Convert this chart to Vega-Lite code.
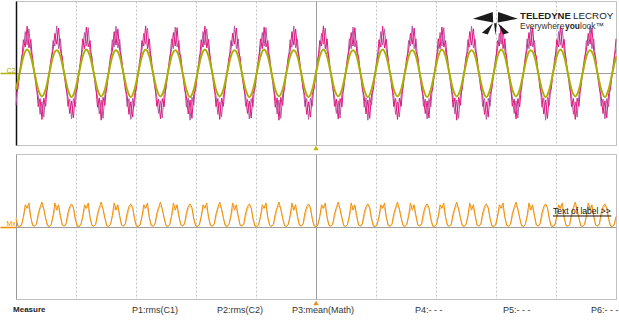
{
"$schema": "https://vega.github.io/schema/vega-lite/v6.json",
"autosize": {"type": "pad"},
"padding": {"left": -2, "top": -1, "right": 0, "bottom": 0},
"background": "white",
"bounds": "flush",
"spacing": 9,
"config": {"view": {"stroke": "#bdbdbd", "strokeWidth": 1}, "font": "Liberation Sans"},
"datasets": {"s": [
{"i":0,"m":-1.18,"q":-1.8,"o":-0.92,"p":0.4,"r":0.5},{"i":1,"m":-0.92,"q":-0.55,"p":0.02,"r":0.08},
{"i":2,"m":0,"q":0.08,"o":0,"p":0,"r":0.02},{"i":3,"m":0.58,"q":0.9,"p":0.08,"r":0.1},{"i":4,"m":1.85,"q":1.2,"o":0.92,"p":0.55,"r":0.5},{"i":5,"m":1.44,"q":2.3,"p":1.2,"r":0.95},{"i":6,"m":2.6,"q":1.55,"o":1.3,"p":1,"r":1.15},{"i":7,"m":1.39,"q":2.45,"p":1.3,"r":1},{"i":8,"m":1.87,"q":1.25,"o":0.92,"p":0.5,"r":0.5},{"i":9,"m":0.58,"q":0.85,"p":0.05,"r":0.08},{"i":10,"m":0,"q":-0.08,"o":0,"p":0.02,"r":0.02},{"i":11,"m":-0.58,"q":-0.9,"p":0.12,"r":0.1},{"i":12,"m":-1.87,"q":-1.25,"o":-0.92,"p":0.7,"r":0.5},{"i":13,"m":-1.42,"q":-2.3,"p":1.05,"r":0.95},{"i":14,"m":-2.58,"q":-1.6,"o":-1.3,"p":1.35,"r":1.15},{"i":15,"m":-1.4,"q":-2.45,"p":0.95,"r":1},{"i":16,"m":-1.85,"q":-1.2,"o":-0.92,"p":0.45,"r":0.5},{"i":17,"m":-0.6,"q":-0.85,"p":0.04,"r":0.08},
{"i":18,"m":0.1,"q":0,"o":0,"p":0,"r":0.02},{"i":19,"m":0.85,"q":0.55,"p":0.1,"r":0.1},{"i":20,"m":1.25,"q":1.8,"o":0.92,"p":0.6,"r":0.5},{"i":21,"m":2.2,"q":1.5,"p":1.3,"r":0.95},{"i":22,"m":1.6,"q":2.62,"o":1.26,"p":0.9,"r":1.15},{"i":23,"m":2.5,"q":1.35,"p":1.2,"r":1},{"i":24,"m":1.2,"q":1.9,"o":0.92,"p":0.6,"r":0.5},{"i":25,"m":0.9,"q":0.6,"p":0.08,"r":0.08},{"i":26,"m":-0.1,"q":0,"o":0,"p":0.03,"r":0.02},{"i":27,"m":-0.85,"q":-0.55,"p":0.15,"r":0.1},{"i":28,"m":-1.3,"q":-1.85,"o":-0.92,"p":0.75,"r":0.5},{"i":29,"m":-2.25,"q":-1.45,"p":1.1,"r":0.95},{"i":30,"m":-1.55,"q":-2.55,"o":-1.34,"p":1.25,"r":1.15},{"i":31,"m":-2.5,"q":-1.42,"p":1.05,"r":1},{"i":32,"m":-1.15,"q":-1.88,"o":-0.92,"p":0.4,"r":0.5},{"i":33,"m":-0.9,"q":-0.58,"p":0.02,"r":0.08},
{"i":34,"m":0,"q":0.05,"o":0,"p":0,"r":0.02},{"i":35,"m":0.62,"q":0.88,"p":0.08,"r":0.1},{"i":36,"m":1.9,"q":1.3,"o":0.92,"p":0.55,"r":0.5},{"i":37,"m":1.35,"q":2.25,"p":1.2,"r":0.95},{"i":38,"m":2.55,"q":1.5,"o":1.3,"p":1,"r":1.15},{"i":39,"m":1.45,"q":2.52,"p":1.3,"r":1},{"i":40,"m":1.8,"q":1.15,"o":0.92,"p":0.5,"r":0.5},{"i":41,"m":0.55,"q":0.92,"p":0.05,"r":0.08},{"i":42,"m":0.02,"q":-0.05,"o":0,"p":0.02,"r":0.02},{"i":43,"m":-0.6,"q":-0.88,"p":0.12,"r":0.1},{"i":44,"m":-1.9,"q":-1.28,"o":-0.92,"p":0.7,"r":0.5},{"i":45,"m":-1.38,"q":-2.28,"p":1.05,"r":0.95},{"i":46,"m":-2.62,"q":-1.5,"o":-1.3,"p":1.35,"r":1.15},{"i":47,"m":-1.35,"q":-2.52,"p":0.95,"r":1},{"i":48,"m":-1.8,"q":-1.18,"o":-0.92,"p":0.45,"r":0.5},{"i":49,"m":-0.55,"q":-0.92,"p":0.04,"r":0.08},
{"i":50,"m":0.08,"q":0,"o":0,"p":0,"r":0.02},{"i":51,"m":0.9,"q":0.58,"p":0.1,"r":0.1},{"i":52,"m":1.2,"q":1.85,"o":0.92,"p":0.6,"r":0.5},{"i":53,"m":2.3,"q":1.44,"p":1.3,"r":0.95},{"i":54,"m":1.55,"q":2.6,"o":1.26,"p":0.9,"r":1.15},{"i":55,"m":2.45,"q":1.39,"p":1.2,"r":1},{"i":56,"m":1.25,"q":1.87,"o":0.92,"p":0.6,"r":0.5},{"i":57,"m":0.85,"q":0.58,"p":0.08,"r":0.08},{"i":58,"m":-0.08,"q":0,"o":0,"p":0.03,"r":0.02},{"i":59,"m":-0.9,"q":-0.58,"p":0.15,"r":0.1},{"i":60,"m":-1.25,"q":-1.87,"o":-0.92,"p":0.75,"r":0.5},{"i":61,"m":-2.3,"q":-1.42,"p":1.1,"r":0.95},{"i":62,"m":-1.6,"q":-2.58,"o":-1.34,"p":1.25,"r":1.15},{"i":63,"m":-2.45,"q":-1.4,"p":1.05,"r":1},{"i":64,"m":-1.2,"q":-1.85,"o":-0.92,"p":0.4,"r":0.5},{"i":65,"m":-0.85,"q":-0.6,"p":0.02,"r":0.08},
{"i":66,"m":0,"q":0.1,"o":0,"p":0,"r":0.02},{"i":67,"m":0.55,"q":0.85,"p":0.08,"r":0.1},{"i":68,"m":1.8,"q":1.25,"o":0.92,"p":0.55,"r":0.5},{"i":69,"m":1.5,"q":2.2,"p":1.2,"r":0.95},{"i":70,"m":2.62,"q":1.6,"o":1.3,"p":1,"r":1.15},{"i":71,"m":1.35,"q":2.5,"p":1.3,"r":1},{"i":72,"m":1.9,"q":1.2,"o":0.92,"p":0.5,"r":0.5},{"i":73,"m":0.6,"q":0.9,"p":0.05,"r":0.08},{"i":74,"m":0,"q":-0.1,"o":0,"p":0.02,"r":0.02},{"i":75,"m":-0.55,"q":-0.85,"p":0.12,"r":0.1},{"i":76,"m":-1.85,"q":-1.3,"o":-0.92,"p":0.7,"r":0.5},{"i":77,"m":-1.45,"q":-2.25,"p":1.05,"r":0.95},{"i":78,"m":-2.55,"q":-1.55,"o":-1.3,"p":1.35,"r":1.15},{"i":79,"m":-1.42,"q":-2.5,"p":0.95,"r":1},{"i":80,"m":-1.88,"q":-1.15,"o":-0.92,"p":0.45,"r":0.5},{"i":81,"m":-0.58,"q":-0.9,"p":0.04,"r":0.08},
{"i":82,"m":0.05,"q":0,"o":0,"p":0,"r":0.02},{"i":83,"m":0.88,"q":0.62,"p":0.1,"r":0.1},{"i":84,"m":1.3,"q":1.9,"o":0.92,"p":0.6,"r":0.5},{"i":85,"m":2.25,"q":1.35,"p":1.3,"r":0.95},{"i":86,"m":1.5,"q":2.55,"o":1.26,"p":0.9,"r":1.15},{"i":87,"m":2.52,"q":1.45,"p":1.2,"r":1},{"i":88,"m":1.15,"q":1.8,"o":0.92,"p":0.6,"r":0.5},{"i":89,"m":0.92,"q":0.55,"p":0.08,"r":0.08},{"i":90,"m":-0.05,"q":0.02,"o":0,"p":0.03,"r":0.02},{"i":91,"m":-0.88,"q":-0.6,"p":0.15,"r":0.1},{"i":92,"m":-1.28,"q":-1.9,"o":-0.92,"p":0.75,"r":0.5},{"i":93,"m":-2.28,"q":-1.38,"p":1.1,"r":0.95},{"i":94,"m":-1.5,"q":-2.62,"o":-1.34,"p":1.25,"r":1.15},{"i":95,"m":-2.52,"q":-1.35,"p":1.05,"r":1},{"i":96,"m":-1.18,"q":-1.8,"o":-0.92,"p":0.4,"r":0.5},{"i":97,"m":-0.92,"q":-0.55,"p":0.02,"r":0.08},
{"i":98,"m":0,"q":0.08,"o":0,"p":0,"r":0.02},{"i":99,"m":0.58,"q":0.9,"p":0.08,"r":0.1},{"i":100,"m":1.85,"q":1.2,"o":0.92,"p":0.55,"r":0.5},{"i":101,"m":1.44,"q":2.3,"p":1.2,"r":0.95},{"i":102,"m":2.6,"q":1.55,"o":1.3,"p":1,"r":1.15},{"i":103,"m":1.39,"q":2.45,"p":1.3,"r":1},{"i":104,"m":1.87,"q":1.25,"o":0.92,"p":0.5,"r":0.5},{"i":105,"m":0.58,"q":0.85,"p":0.05,"r":0.08},{"i":106,"m":0,"q":-0.08,"o":0,"p":0.02,"r":0.02},{"i":107,"m":-0.58,"q":-0.9,"p":0.12,"r":0.1},{"i":108,"m":-1.87,"q":-1.25,"o":-0.92,"p":0.7,"r":0.5},{"i":109,"m":-1.42,"q":-2.3,"p":1.05,"r":0.95},{"i":110,"m":-2.58,"q":-1.6,"o":-1.3,"p":1.35,"r":1.15},{"i":111,"m":-1.4,"q":-2.45,"p":0.95,"r":1},{"i":112,"m":-1.85,"q":-1.2,"o":-0.92,"p":0.45,"r":0.5},{"i":113,"m":-0.6,"q":-0.85,"p":0.04,"r":0.08},
{"i":114,"m":0.1,"q":0,"o":0,"p":0,"r":0.02},{"i":115,"m":0.85,"q":0.55,"p":0.1,"r":0.1},{"i":116,"m":1.25,"q":1.8,"o":0.92,"p":0.6,"r":0.5},{"i":117,"m":2.2,"q":1.5,"p":1.3,"r":0.95},{"i":118,"m":1.6,"q":2.62,"o":1.26,"p":0.9,"r":1.15},{"i":119,"m":2.5,"q":1.35,"p":1.2,"r":1},{"i":120,"m":1.2,"q":1.9,"o":0.92,"p":0.6,"r":0.5},{"i":121,"m":0.9,"q":0.6,"p":0.08,"r":0.08},{"i":122,"m":-0.1,"q":0,"o":0,"p":0.03,"r":0.02},{"i":123,"m":-0.85,"q":-0.55,"p":0.15,"r":0.1},{"i":124,"m":-1.3,"q":-1.85,"o":-0.92,"p":0.75,"r":0.5},{"i":125,"m":-2.25,"q":-1.45,"p":1.1,"r":0.95},{"i":126,"m":-1.55,"q":-2.55,"o":-1.34,"p":1.25,"r":1.15},{"i":127,"m":-2.5,"q":-1.42,"p":1.05,"r":1},{"i":128,"m":-1.15,"q":-1.88,"o":-0.92,"p":0.4,"r":0.5},{"i":129,"m":-0.9,"q":-0.58,"p":0.02,"r":0.08},
{"i":130,"m":0,"q":0.05,"o":0,"p":0,"r":0.02},{"i":131,"m":0.62,"q":0.88,"p":0.08,"r":0.1},{"i":132,"m":1.9,"q":1.3,"o":0.92,"p":0.55,"r":0.5},{"i":133,"m":1.35,"q":2.25,"p":1.2,"r":0.95},{"i":134,"m":2.55,"q":1.5,"o":1.3,"p":1,"r":1.15},{"i":135,"m":1.45,"q":2.52,"p":1.3,"r":1},{"i":136,"m":1.8,"q":1.15,"o":0.92,"p":0.5,"r":0.5},{"i":137,"m":0.55,"q":0.92,"p":0.05,"r":0.08},{"i":138,"m":0.02,"q":-0.05,"o":0,"p":0.02,"r":0.02},{"i":139,"m":-0.6,"q":-0.88,"p":0.12,"r":0.1},{"i":140,"m":-1.9,"q":-1.28,"o":-0.92,"p":0.7,"r":0.5},{"i":141,"m":-1.38,"q":-2.28,"p":1.05,"r":0.95},{"i":142,"m":-2.62,"q":-1.5,"o":-1.3,"p":1.35,"r":1.15},{"i":143,"m":-1.35,"q":-2.52,"p":0.95,"r":1},{"i":144,"m":-1.8,"q":-1.18,"o":-0.92,"p":0.45,"r":0.5},{"i":145,"m":-0.55,"q":-0.92,"p":0.04,"r":0.08},
{"i":146,"m":0.08,"q":0,"o":0,"p":0,"r":0.02},{"i":147,"m":0.9,"q":0.58,"p":0.1,"r":0.1},{"i":148,"m":1.2,"q":1.85,"o":0.92,"p":0.6,"r":0.5},{"i":149,"m":2.3,"q":1.44,"p":1.3,"r":0.95},{"i":150,"m":1.55,"q":2.6,"o":1.26,"p":0.9,"r":1.15},{"i":151,"m":2.45,"q":1.39,"p":1.2,"r":1},{"i":152,"m":1.25,"q":1.87,"o":0.92,"p":0.6,"r":0.5},{"i":153,"m":0.85,"q":0.58,"p":0.08,"r":0.08},{"i":154,"m":-0.08,"q":0,"o":0,"p":0.03,"r":0.02},{"i":155,"m":-0.9,"q":-0.58,"p":0.15,"r":0.1},{"i":156,"m":-1.25,"q":-1.87,"o":-0.92,"p":0.75,"r":0.5},{"i":157,"m":-2.3,"q":-1.42,"p":1.1,"r":0.95},{"i":158,"m":-1.6,"q":-2.58,"o":-1.34,"p":1.25,"r":1.15},{"i":159,"m":-2.45,"q":-1.4,"p":1.05,"r":1},{"i":160,"m":-1.2,"q":-1.85,"o":-0.92,"p":0.4,"r":0.5},{"i":161,"m":-0.85,"q":-0.6,"p":0.02,"r":0.08},
{"i":162,"m":0,"q":0.1,"o":0,"p":0,"r":0.02},{"i":163,"m":0.55,"q":0.85,"p":0.08,"r":0.1},{"i":164,"m":1.8,"q":1.25,"o":0.92,"p":0.55,"r":0.5},{"i":165,"m":1.5,"q":2.2,"p":1.2,"r":0.95},{"i":166,"m":2.62,"q":1.6,"o":1.3,"p":1,"r":1.15},{"i":167,"m":1.35,"q":2.5,"p":1.3,"r":1},{"i":168,"m":1.9,"q":1.2,"o":0.92,"p":0.5,"r":0.5},{"i":169,"m":0.6,"q":0.9,"p":0.05,"r":0.08},{"i":170,"m":0,"q":-0.1,"o":0,"p":0.02,"r":0.02},{"i":171,"m":-0.55,"q":-0.85,"p":0.12,"r":0.1},{"i":172,"m":-1.85,"q":-1.3,"o":-0.92,"p":0.7,"r":0.5},{"i":173,"m":-1.45,"q":-2.25,"p":1.05,"r":0.95},{"i":174,"m":-2.55,"q":-1.55,"o":-1.3,"p":1.35,"r":1.15},{"i":175,"m":-1.42,"q":-2.5,"p":0.95,"r":1},{"i":176,"m":-1.88,"q":-1.15,"o":-0.92,"p":0.45,"r":0.5},{"i":177,"m":-0.58,"q":-0.9,"p":0.04,"r":0.08},
{"i":178,"m":0.05,"q":0,"o":0,"p":0,"r":0.02},{"i":179,"m":0.88,"q":0.62,"p":0.1,"r":0.1},{"i":180,"m":1.3,"q":1.9,"o":0.92,"p":0.6,"r":0.5},{"i":181,"m":2.25,"q":1.35,"p":1.3,"r":0.95},{"i":182,"m":1.5,"q":2.55,"o":1.26,"p":0.9,"r":1.15},{"i":183,"m":2.52,"q":1.45,"p":1.2,"r":1},{"i":184,"m":1.15,"q":1.8,"o":0.92,"p":0.6,"r":0.5},{"i":185,"m":0.92,"q":0.55,"p":0.08,"r":0.08},{"i":186,"m":-0.05,"q":0.02,"o":0,"p":0.03,"r":0.02},{"i":187,"m":-0.88,"q":-0.6,"p":0.15,"r":0.1},{"i":188,"m":-1.28,"q":-1.9,"o":-0.92,"p":0.75,"r":0.5},{"i":189,"m":-2.28,"q":-1.38,"p":1.1,"r":0.95},{"i":190,"m":-1.5,"q":-2.62,"o":-1.34,"p":1.25,"r":1.15},{"i":191,"m":-2.52,"q":-1.35,"p":1.05,"r":1},{"i":192,"m":-1.18,"q":-1.8,"o":-0.92,"p":0.4,"r":0.5},{"i":193,"m":-0.92,"q":-0.55,"p":0.02,"r":0.08},
{"i":194,"m":0,"q":0.08,"o":0,"p":0,"r":0.02},{"i":195,"m":0.58,"q":0.9,"p":0.08,"r":0.1},{"i":196,"m":1.85,"q":1.2,"o":0.92,"p":0.55,"r":0.5},{"i":197,"m":1.44,"q":2.3,"p":1.2,"r":0.95},{"i":198,"m":2.6,"q":1.55,"o":1.3,"p":1,"r":1.15},{"i":199,"m":1.39,"q":2.45,"p":1.3,"r":1},{"i":200,"m":1.87,"q":1.25,"o":0.92,"p":0.5,"r":0.5},{"i":201,"m":0.58,"q":0.85,"p":0.05,"r":0.08},{"i":202,"m":0,"q":-0.08,"o":0,"p":0.02,"r":0.02},{"i":203,"m":-0.58,"q":-0.9,"p":0.12,"r":0.1},{"i":204,"m":-1.87,"q":-1.25,"o":-0.92,"p":0.7,"r":0.5},{"i":205,"m":-1.42,"q":-2.3,"p":1.05,"r":0.95},{"i":206,"m":-2.58,"q":-1.6,"o":-1.3,"p":1.35,"r":1.15},{"i":207,"m":-1.4,"q":-2.45,"p":0.95,"r":1},{"i":208,"m":-1.85,"q":-1.2,"o":-0.92,"p":0.45,"r":0.5},{"i":209,"m":-0.6,"q":-0.85,"p":0.04,"r":0.08},
{"i":210,"m":0.1,"q":0,"o":0,"p":0,"r":0.02},{"i":211,"m":0.85,"q":0.55,"p":0.1,"r":0.1},{"i":212,"m":1.25,"q":1.8,"o":0.92,"p":0.6,"r":0.5},{"i":213,"m":2.2,"q":1.5,"p":1.3,"r":0.95},{"i":214,"m":1.6,"q":2.62,"o":1.26,"p":0.9,"r":1.15},{"i":215,"m":2.5,"q":1.35,"p":1.2,"r":1},{"i":216,"m":1.2,"q":1.9,"o":0.92,"p":0.6,"r":0.5},{"i":217,"m":0.9,"q":0.6,"p":0.08,"r":0.08},{"i":218,"m":-0.1,"q":0,"o":0,"p":0.03,"r":0.02},{"i":219,"m":-0.85,"q":-0.55,"p":0.15,"r":0.1},{"i":220,"m":-1.3,"q":-1.85,"o":-0.92,"p":0.75,"r":0.5},{"i":221,"m":-2.25,"q":-1.45,"p":1.1,"r":0.95},{"i":222,"m":-1.55,"q":-2.55,"o":-1.34,"p":1.25,"r":1.15},{"i":223,"m":-2.5,"q":-1.42,"p":1.05,"r":1},{"i":224,"m":-1.15,"q":-1.88,"o":-0.92,"p":0.4,"r":0.5},{"i":225,"m":-0.9,"q":-0.58,"p":0.02,"r":0.08},
{"i":226,"m":0,"q":0.05,"o":0,"p":0,"r":0.02},{"i":227,"m":0.62,"q":0.88,"p":0.08,"r":0.1},{"i":228,"m":1.9,"q":1.3,"o":0.92,"p":0.55,"r":0.5},{"i":229,"m":1.35,"q":2.25,"p":1.2,"r":0.95},{"i":230,"m":2.55,"q":1.5,"o":1.3,"p":1,"r":1.15},{"i":231,"m":1.45,"q":2.52,"p":1.3,"r":1},{"i":232,"m":1.8,"q":1.15,"o":0.92,"p":0.5,"r":0.5},{"i":233,"m":0.55,"q":0.92,"p":0.05,"r":0.08},{"i":234,"m":0.02,"q":-0.05,"o":0,"p":0.02,"r":0.02},{"i":235,"m":-0.6,"q":-0.88,"p":0.12,"r":0.1},{"i":236,"m":-1.9,"q":-1.28,"o":-0.92,"p":0.7,"r":0.5},{"i":237,"m":-1.38,"q":-2.28,"p":1.05,"r":0.95},{"i":238,"m":-2.62,"q":-1.5,"o":-1.3,"p":1.35,"r":1.15},{"i":239,"m":-1.35,"q":-2.52,"p":0.95,"r":1},{"i":240,"m":-1.8,"q":-1.18,"o":-0.92,"p":0.45,"r":0.5},{"i":241,"m":-0.55,"q":-0.92,"p":0.04,"r":0.08},
{"i":242,"m":0.08,"q":0,"o":0,"p":0,"r":0.02},{"i":243,"m":0.9,"q":0.58,"p":0.1,"r":0.1},{"i":244,"m":1.2,"q":1.85,"o":0.92,"p":0.6,"r":0.5},{"i":245,"m":2.3,"q":1.44,"p":1.3,"r":0.95},{"i":246,"m":1.55,"q":2.6,"o":1.26,"p":0.9,"r":1.15},{"i":247,"m":2.45,"q":1.39,"p":1.2,"r":1},{"i":248,"m":1.25,"q":1.87,"o":0.92,"p":0.6,"r":0.5},{"i":249,"m":0.85,"q":0.58,"p":0.08,"r":0.08},{"i":250,"m":-0.08,"q":0,"o":0,"p":0.03,"r":0.02},{"i":251,"m":-0.9,"q":-0.58,"p":0.15,"r":0.1},{"i":252,"m":-1.25,"q":-1.87,"o":-0.92,"p":0.75,"r":0.5},{"i":253,"m":-2.3,"q":-1.42,"p":1.1,"r":0.95},{"i":254,"m":-1.6,"q":-2.58,"o":-1.34,"p":1.25,"r":1.15},{"i":255,"m":-2.45,"q":-1.4,"p":1.05,"r":1},{"i":256,"m":-1.2,"q":-1.85,"o":-0.92,"p":0.4,"r":0.5},{"i":257,"m":-0.85,"q":-0.6,"p":0.02,"r":0.08},
{"i":258,"m":0,"q":0.1,"o":0,"p":0,"r":0.02},{"i":259,"m":0.55,"q":0.85,"p":0.08,"r":0.1},{"i":260,"m":1.8,"q":1.25,"o":0.92,"p":0.55,"r":0.5},{"i":261,"m":1.5,"q":2.2,"p":1.2,"r":0.95},{"i":262,"m":2.62,"q":1.6,"o":1.3,"p":1,"r":1.15},{"i":263,"m":1.35,"q":2.5,"p":1.3,"r":1},{"i":264,"m":1.9,"q":1.2,"o":0.92,"p":0.5,"r":0.5},{"i":265,"m":0.6,"q":0.9,"p":0.05,"r":0.08},{"i":266,"m":0,"q":-0.1,"o":0,"p":0.02,"r":0.02},{"i":267,"m":-0.55,"q":-0.85,"p":0.12,"r":0.1},{"i":268,"m":-1.85,"q":-1.3,"o":-0.92,"p":0.7,"r":0.5},{"i":269,"m":-1.45,"q":-2.25,"p":1.05,"r":0.95},{"i":270,"m":-2.55,"q":-1.55,"o":-1.3,"p":1.35,"r":1.15},{"i":271,"m":-1.42,"q":-2.5,"p":0.95,"r":1},{"i":272,"m":-1.88,"q":-1.15,"o":-0.92,"p":0.45,"r":0.5},{"i":273,"m":-0.58,"q":-0.9,"p":0.04,"r":0.08},
{"i":274,"m":0.05,"q":0,"o":0,"p":0,"r":0.02},{"i":275,"m":0.88,"q":0.62,"p":0.1,"r":0.1},{"i":276,"m":1.3,"q":1.9,"o":0.92,"p":0.6,"r":0.5},{"i":277,"m":2.25,"q":1.35,"p":1.3,"r":0.95},{"i":278,"m":1.5,"q":2.55,"o":1.26,"p":0.9,"r":1.15},{"i":279,"m":2.52,"q":1.45,"p":1.2,"r":1},{"i":280,"m":1.15,"q":1.8,"o":0.92,"p":0.6,"r":0.5},{"i":281,"m":0.92,"q":0.55,"p":0.08,"r":0.08},{"i":282,"m":-0.05,"q":0.02,"o":0,"p":0.03,"r":0.02},{"i":283,"m":-0.88,"q":-0.6,"p":0.15,"r":0.1},{"i":284,"m":-1.28,"q":-1.9,"o":-0.92,"p":0.75,"r":0.5},{"i":285,"m":-2.28,"q":-1.38,"p":1.1,"r":0.95},{"i":286,"m":-1.5,"q":-2.62,"o":-1.34,"p":1.25,"r":1.15},{"i":287,"m":-2.52,"q":-1.35,"p":1.05,"r":1},{"i":288,"m":-1.18,"q":-1.8,"o":-0.92,"p":0.4,"r":0.5},{"i":289,"m":-0.92,"q":-0.55,"p":0.02,"r":0.08},
{"i":290,"m":0,"q":0.08,"o":0,"p":0,"r":0.02},{"i":291,"m":0.58,"q":0.9,"p":0.08,"r":0.1},{"i":292,"m":1.85,"q":1.2,"o":0.92,"p":0.55,"r":0.5},{"i":293,"m":1.44,"q":2.3,"p":1.2,"r":0.95},{"i":294,"m":2.6,"q":1.55,"o":1.3,"p":1,"r":1.15},{"i":295,"m":1.39,"q":2.45,"p":1.3,"r":1},{"i":296,"m":1.87,"q":1.25,"o":0.92,"p":0.5,"r":0.5},{"i":297,"m":0.58,"q":0.85,"p":0.05,"r":0.08},{"i":298,"m":0,"q":-0.08,"o":0,"p":0.02,"r":0.02},{"i":299,"m":-0.58,"q":-0.9,"p":0.12,"r":0.1},{"i":300,"m":-1.87,"q":-1.25,"o":-0.92,"p":0.7,"r":0.5},{"i":301,"m":-1.42,"q":-2.3,"p":1.05,"r":0.95},{"i":302,"m":-2.58,"q":-1.6,"o":-1.3,"p":1.35,"r":1.15},{"i":303,"m":-1.4,"q":-2.45,"p":0.95,"r":1},{"i":304,"m":-1.85,"q":-1.2,"o":-0.92,"p":0.45,"r":0.5},{"i":305,"m":-0.6,"q":-0.85,"p":0.04,"r":0.08},
{"i":306,"m":0.1,"q":0,"o":0,"p":0,"r":0.02},{"i":307,"m":0.85,"q":0.55,"p":0.1,"r":0.1},{"i":308,"m":1.25,"q":1.8,"o":0.92,"p":0.6,"r":0.5},{"i":309,"m":2.2,"q":1.5,"p":1.3,"r":0.95},{"i":310,"m":1.6,"q":2.62,"o":1.26,"p":0.9,"r":1.15},{"i":311,"m":2.5,"q":1.35,"p":1.2,"r":1},{"i":312,"m":1.2,"q":1.9,"o":0.92,"p":0.6,"r":0.5},{"i":313,"m":0.9,"q":0.6,"p":0.08,"r":0.08},{"i":314,"m":-0.1,"q":0,"o":0,"p":0.03,"r":0.02},{"i":315,"m":-0.85,"q":-0.55,"p":0.15,"r":0.1},{"i":316,"m":-1.3,"q":-1.85,"o":-0.92,"p":0.75,"r":0.5},{"i":317,"m":-2.25,"q":-1.45,"p":1.1,"r":0.95},{"i":318,"m":-1.55,"q":-2.55,"o":-1.34,"p":1.25,"r":1.15},{"i":319,"m":-2.5,"q":-1.42,"p":1.05,"r":1},{"i":320,"m":-1.15,"q":-1.88,"o":-0.92,"p":0.4,"r":0.5},{"i":321,"m":-0.9,"q":-0.58,"p":0.02,"r":0.08},
{"i":322,"m":0,"q":0.05,"o":0,"p":0,"r":0.02},{"i":323,"m":0.62,"q":0.88,"p":0.08,"r":0.1},{"i":324,"m":1.9,"q":1.3,"o":0.92,"p":0.55,"r":0.5}
]},
"vconcat": [
{
"width": 600, "height": 144,
"layer": [
  {"data": {"name": "s"}, "mark": {"type": "line", "color": "#b55aa6", "strokeWidth": 1},
   "encoding": {
    "x": {"field": "i", "type": "quantitative", "scale": {"domain": [0, 324]}, "axis": {"values": [0,32.4,64.8,97.2,129.6,162,194.4,226.8,259.2,291.6,324], "grid": true, "gridColor": {"condition": {"test": "datum.value === 162", "value": "#9e9e9e"}, "value": "#c4c4c4"}, "gridDash": {"condition": {"test": "datum.value === 162", "value": []}, "value": [2,2]}, "labels": false, "ticks": false, "domain": false, "title": null}},
    "y": {"field": "q", "type": "quantitative", "scale": {"domain": [-4, 4]}, "axis": {"values": [-4,-3,-2,-1,0,1,2,3,4], "grid": true, "gridColor": {"condition": {"test": "datum.value === 0", "value": "#9e9e9e"}, "value": "#c4c4c4"}, "gridDash": {"condition": {"test": "datum.value === 0", "value": []}, "value": [2,2]}, "labelExpr": "datum.value === 0 ? 'C2' : ''", "labelColor": "#a8a800", "labelFontSize": 7, "labelAlign": "left", "labelBaseline": "bottom", "labelPadding": -6, "tickSize": 16, "tickWidth": 1.5, "tickColor": {"condition": {"test": "datum.value === 0", "value": "#b3b300"}, "value": "transparent"}, "domainColor": "#111", "domainWidth": 1.5, "title": null}}
   }},
  {"data": {"name": "s"}, "mark": {"type": "line", "color": "#e2177f", "strokeWidth": 1}, "encoding": {"x": {"field": "i", "type": "quantitative", "scale": {"domain": [0, 324]}, "title": null}, "y": {"field": "m", "type": "quantitative", "scale": {"domain": [-4, 4]}, "title": null}}},
  {"data": {"name": "s"}, "mark": {"type": "line", "color": "#a9b000", "strokeWidth": 2, "interpolate": "monotone", "invalid": "filter"}, "encoding": {"x": {"field": "i", "type": "quantitative", "scale": {"domain": [0, 324]}, "title": null}, "y": {"field": "o", "type": "quantitative", "scale": {"domain": [-4, 4]}, "title": null}}},
  {"data": {"values": [{}]}, "mark": {"type": "point", "shape": "M-1,-0.12 L-0.12,-0.42 L-0.1,0.04 Z M1,-0.12 L0.12,-0.42 L0.1,0.04 Z M-0.11,0.08 L-0.6,0.5 L-0.34,0.58 Z M-0.06,0.08 L0.06,0.08 L0,0.62 Z M0.11,0.08 L0.6,0.5 L0.34,0.58 Z", "filled": true, "color": "#1b1b1b", "opacity": 1, "size": 2025}, "encoding": {"x": {"datum": 258.9, "scale": {"domain": [0, 324]}}, "y": {"datum": 2.86, "scale": {"domain": [-4, 4]}}}},
  {"data": {"values": [{}]}, "mark": {"type": "text", "text": "TELEDYNE", "align": "left", "baseline": "middle", "fontWeight": "bold", "fontSize": 9.5, "color": "#222"}, "encoding": {"x": {"datum": 272.2, "scale": {"domain": [0, 324]}}, "y": {"datum": 3.14, "scale": {"domain": [-4, 4]}}}},
  {"data": {"values": [{}]}, "mark": {"type": "text", "text": "LECROY", "align": "left", "baseline": "middle", "fontSize": 9.8, "color": "#222"}, "encoding": {"x": {"datum": 300.8, "scale": {"domain": [0, 324]}}, "y": {"datum": 3.14, "scale": {"domain": [-4, 4]}}}},
  {"data": {"values": [{}]}, "mark": {"type": "text", "text": "Everywhere", "align": "left", "baseline": "middle", "fontSize": 8.4, "color": "#333"}, "encoding": {"x": {"datum": 272.2, "scale": {"domain": [0, 324]}}, "y": {"datum": 2.61, "scale": {"domain": [-4, 4]}}}},
  {"data": {"values": [{}]}, "mark": {"type": "text", "text": "you", "align": "left", "baseline": "middle", "fontSize": 8.4, "fontWeight": "bold", "color": "#222"}, "encoding": {"x": {"datum": 296.5, "scale": {"domain": [0, 324]}}, "y": {"datum": 2.61, "scale": {"domain": [-4, 4]}}}},
  {"data": {"values": [{}]}, "mark": {"type": "text", "text": "look™", "align": "left", "baseline": "middle", "fontSize": 8.4, "color": "#333"}, "encoding": {"x": {"datum": 304.6, "scale": {"domain": [0, 324]}}, "y": {"datum": 2.61, "scale": {"domain": [-4, 4]}}}},
  {"data": {"values": [{}]}, "mark": {"type": "point", "shape": "triangle-up", "filled": true, "color": "#c8b400", "opacity": 1, "size": 28}, "encoding": {"x": {"datum": 162, "scale": {"domain": [0, 324]}}, "y": {"datum": -4.17, "scale": {"domain": [-4, 4]}}}}
]
},
{
"width": 600, "height": 145,
"layer": [
  {"data": {"name": "s"}, "mark": {"type": "line", "color": "#f6c27c", "strokeWidth": 1},
   "encoding": {
    "x": {"field": "i", "type": "quantitative", "scale": {"domain": [0, 324]}, "axis": {"values": [0,32.4,64.8,97.2,129.6,162,194.4,226.8,259.2,291.6,324], "grid": true, "gridColor": {"condition": {"test": "datum.value === 162", "value": "#9e9e9e"}, "value": "#c4c4c4"}, "gridDash": {"condition": {"test": "datum.value === 162", "value": []}, "value": [2,2]}, "labels": false, "ticks": false, "domain": false, "title": null}},
    "y": {"field": "r", "type": "quantitative", "scale": {"domain": [-4, 4]}, "axis": {"values": [-4,-3,-2,-1,0,1,2,3,4], "grid": true, "gridColor": {"condition": {"test": "datum.value === 0", "value": "#9e9e9e"}, "value": "#c4c4c4"}, "gridDash": {"condition": {"test": "datum.value === 0", "value": []}, "value": [2,2]}, "labelExpr": "datum.value === 0 ? 'Mx' : ''", "labelColor": "#f08c00", "labelFontSize": 7, "labelAlign": "left", "labelBaseline": "bottom", "labelPadding": -6, "tickSize": 16, "tickWidth": 1.5, "tickColor": {"condition": {"test": "datum.value === 0", "value": "#f08c00"}, "value": "transparent"}, "domainColor": "#9a9a9a", "domainWidth": 1, "title": null}}
   }},
  {"data": {"name": "s"}, "mark": {"type": "line", "color": "#f0900a", "strokeWidth": 1}, "encoding": {"x": {"field": "i", "type": "quantitative", "scale": {"domain": [0, 324]}, "title": null}, "y": {"field": "p", "type": "quantitative", "scale": {"domain": [-4, 4]}, "title": null}}},
  {"data": {"values": [{}]}, "mark": {"type": "text", "text": "Text of label >>", "align": "left", "baseline": "middle", "fontSize": 8.5, "color": "#111"}, "encoding": {"x": {"datum": 290, "scale": {"domain": [0, 324]}}, "y": {"datum": 0.85, "scale": {"domain": [-4, 4]}}}},
  {"data": {"values": [{}]}, "mark": {"type": "rule", "color": "#111", "strokeWidth": 1}, "encoding": {"x": {"datum": 290, "scale": {"domain": [0, 324]}}, "x2": {"datum": 321.5}, "y": {"datum": 0.58, "scale": {"domain": [-4, 4]}}}},
  {"data": {"values": [{}]}, "mark": {"type": "point", "shape": "triangle-up", "filled": true, "color": "#f09010", "opacity": 1, "size": 28}, "encoding": {"x": {"datum": 162, "scale": {"domain": [0, 324]}}, "y": {"datum": -4.22, "scale": {"domain": [-4, 4]}}}},
  {"data": {"values": [{}]}, "mark": {"type": "text", "text": "Measure", "align": "left", "baseline": "middle", "fontSize": 8, "fontWeight": "bold", "color": "#222"}, "encoding": {"x": {"datum": -1.6, "scale": {"domain": [0, 324]}}, "y": {"datum": -4.6, "scale": {"domain": [-4, 4]}}}},
  {"data": {"values": [{}]}, "mark": {"type": "text", "text": "P1:rms(C1)", "align": "left", "baseline": "middle", "fontSize": 9, "color": "#333"}, "encoding": {"x": {"datum": 62.6, "scale": {"domain": [0, 324]}}, "y": {"datum": -4.6, "scale": {"domain": [-4, 4]}}}},
  {"data": {"values": [{}]}, "mark": {"type": "text", "text": "P2:rms(C2)", "align": "left", "baseline": "middle", "fontSize": 9, "color": "#333"}, "encoding": {"x": {"datum": 108.5, "scale": {"domain": [0, 324]}}, "y": {"datum": -4.6, "scale": {"domain": [-4, 4]}}}},
  {"data": {"values": [{}]}, "mark": {"type": "text", "text": "P3:mean(Math)", "align": "left", "baseline": "middle", "fontSize": 9, "color": "#333"}, "encoding": {"x": {"datum": 149, "scale": {"domain": [0, 324]}}, "y": {"datum": -4.6, "scale": {"domain": [-4, 4]}}}},
  {"data": {"values": [{}]}, "mark": {"type": "text", "text": "P4:- - -", "align": "left", "baseline": "middle", "fontSize": 9, "color": "#333"}, "encoding": {"x": {"datum": 215.5, "scale": {"domain": [0, 324]}}, "y": {"datum": -4.6, "scale": {"domain": [-4, 4]}}}},
  {"data": {"values": [{}]}, "mark": {"type": "text", "text": "P5:- - -", "align": "left", "baseline": "middle", "fontSize": 9, "color": "#333"}, "encoding": {"x": {"datum": 263, "scale": {"domain": [0, 324]}}, "y": {"datum": -4.6, "scale": {"domain": [-4, 4]}}}},
  {"data": {"values": [{}]}, "mark": {"type": "text", "text": "P6:- - -", "align": "left", "baseline": "middle", "fontSize": 9, "color": "#333"}, "encoding": {"x": {"datum": 310.5, "scale": {"domain": [0, 324]}}, "y": {"datum": -4.6, "scale": {"domain": [-4, 4]}}}}
]
}
]
}
